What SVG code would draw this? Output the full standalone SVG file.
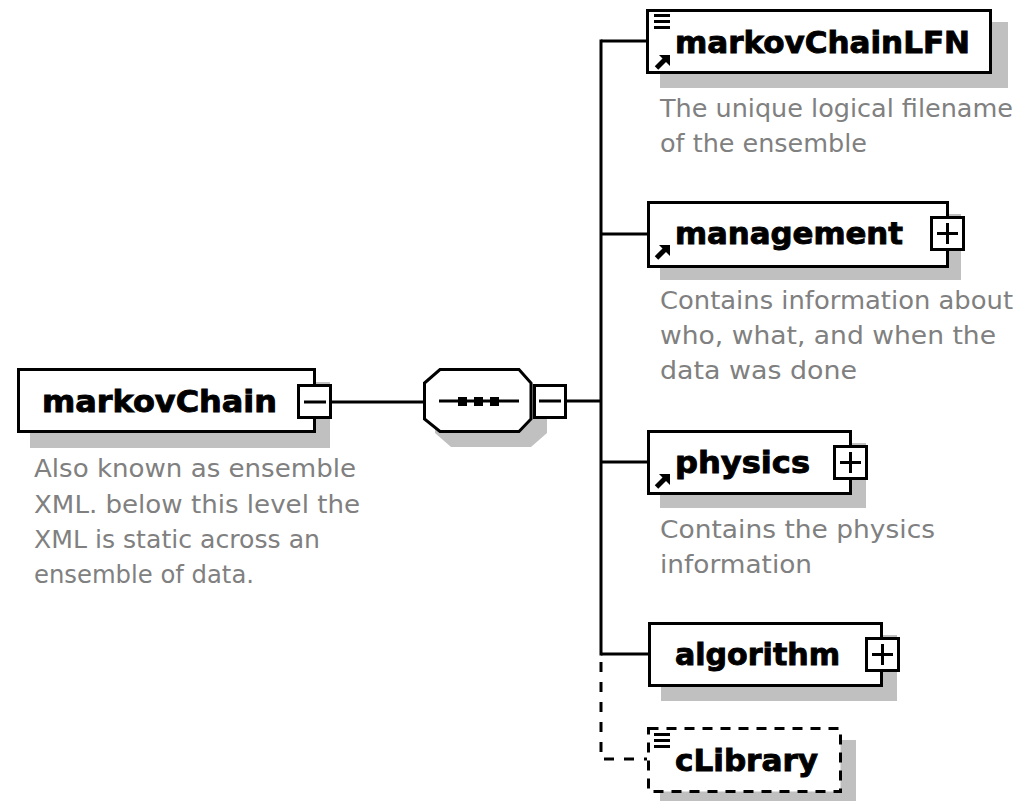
<svg xmlns="http://www.w3.org/2000/svg" width="1023" height="801" viewBox="0 0 1023 801">
<style>
.box{fill:#fff;stroke:#000;stroke-width:3}
.dbox{fill:#fff;stroke:#000;stroke-width:3;stroke-dasharray:10 8}
.sh{fill:#c0c0c0;stroke:none}
.ln{stroke:#000;stroke-width:3;fill:none}
.dln{stroke:#000;stroke-width:3;fill:none;stroke-dasharray:10 10}
.t{font-family:"DejaVu Sans","Verdana",sans-serif;font-weight:bold;font-size:30px;fill:#000;stroke:#000;stroke-width:0.9}
.d{font-family:"DejaVu Sans","Verdana",sans-serif;font-size:24px;fill:#808080}
</style>
<defs>
<g id="refArrow">
<polygon points="4,0 15,0 15,11" fill="#000"/>
<line x1="1.5" y1="13" x2="10.5" y2="4" stroke="#000" stroke-width="5"/>
</g>
<g id="eqIcon" fill="#000">
<rect x="0" y="0" width="16" height="3"/>
<rect x="0" y="6" width="16" height="3"/>
<rect x="0" y="12" width="16" height="3"/>
</g>
<g id="plusBox">
<rect x="1.5" y="1.5" width="32" height="32" class="box"/>
<line x1="7" y1="17.5" x2="28" y2="17.5" class="ln"/>
<line x1="17.5" y1="7" x2="17.5" y2="28" class="ln"/>
</g>
</defs>

<g id="connectors">
<line x1="332" y1="402" x2="424" y2="402" class="ln"/>
<line x1="566" y1="401" x2="602" y2="401" class="ln"/>
<line x1="601" y1="39.5" x2="601" y2="655.5" class="ln"/>
<line x1="601" y1="41" x2="647" y2="41" class="ln"/>
<line x1="601" y1="234" x2="647" y2="234" class="ln"/>
<line x1="601" y1="462" x2="647" y2="462" class="ln"/>
<line x1="601" y1="654" x2="648" y2="654" class="ln"/>
<polyline points="601,662 601,759 647,759" class="dln"/>
</g>

<g id="markovChain">
<rect x="30" y="382" width="300" height="66" class="sh"/>
<rect x="18.5" y="369.5" width="296" height="62" class="box"/>
<text x="42" y="412" class="t" textLength="235" lengthAdjust="spacingAndGlyphs">markovChain</text>
<rect x="298.5" y="385.5" width="32" height="32" class="box"/>
<line x1="304" y1="402" x2="326" y2="402" class="ln"/>
<text class="d" x="34" y="477" textLength="322" lengthAdjust="spacingAndGlyphs">Also known as ensemble</text>
<text class="d" x="34" y="513" textLength="326" lengthAdjust="spacingAndGlyphs">XML. below this level the</text>
<text class="d" x="34" y="548" textLength="286" lengthAdjust="spacingAndGlyphs">XML is static across an</text>
<text class="d" x="34" y="583" textLength="220" lengthAdjust="spacingAndGlyphs">ensemble of data.</text>
</g>

<g id="sequence">
<polygon points="451,382 531,382 547,397 547,433 531,447 451,447 435,433 435,397" class="sh"/>
<polygon points="440,369.5 519,369.5 531,383 531,419 519,431.5 440,431.5 424.5,419 424.5,383" class="box"/>
<line x1="439" y1="401" x2="519" y2="401" class="ln"/>
<rect x="458" y="397" width="9" height="9" fill="#000"/>
<rect x="474" y="397" width="9" height="9" fill="#000"/>
<rect x="490" y="397" width="9" height="9" fill="#000"/>
<rect x="534.5" y="385.5" width="31" height="32" class="box"/>
<line x1="539" y1="401" x2="561" y2="401" class="ln"/>
</g>

<g id="markovChainLFN">
<rect x="660" y="22" width="348" height="66" class="sh"/>
<rect x="647.5" y="10.5" width="343" height="62" class="box"/>
<use href="#eqIcon" x="654" y="14"/>
<use href="#refArrow" x="655" y="55"/>
<text x="675" y="53" class="t" textLength="295" lengthAdjust="spacingAndGlyphs">markovChainLFN</text>
<text class="d" x="660" y="117" textLength="353" lengthAdjust="spacingAndGlyphs">The unique logical filename</text>
<text class="d" x="660" y="152" textLength="207" lengthAdjust="spacingAndGlyphs">of the ensemble</text>
</g>

<g id="management">
<rect x="660" y="214" width="301" height="66" class="sh"/>
<rect x="648.5" y="202.5" width="299" height="64" class="box"/>
<use href="#refArrow" x="655" y="245"/>
<text x="675" y="244" class="t" textLength="228" lengthAdjust="spacingAndGlyphs">management</text>
<use href="#plusBox" x="930" y="216"/>
<text class="d" x="660" y="309" textLength="353" lengthAdjust="spacingAndGlyphs">Contains information about</text>
<text class="d" x="660" y="344" textLength="336" lengthAdjust="spacingAndGlyphs">who, what, and when the</text>
<text class="d" x="660" y="379" textLength="197" lengthAdjust="spacingAndGlyphs">data was done</text>
</g>

<g id="physics">
<rect x="660" y="443" width="206" height="65" class="sh"/>
<rect x="648.5" y="431.5" width="202" height="62" class="box"/>
<use href="#refArrow" x="655" y="474"/>
<text x="675" y="473" class="t" textLength="135" lengthAdjust="spacingAndGlyphs">physics</text>
<use href="#plusBox" x="833" y="445"/>
<text class="d" x="660" y="538" textLength="275" lengthAdjust="spacingAndGlyphs">Contains the physics</text>
<text class="d" x="660" y="573" textLength="152" lengthAdjust="spacingAndGlyphs">information</text>
</g>

<g id="algorithm">
<rect x="661" y="635" width="236" height="66" class="sh"/>
<rect x="649.5" y="623.5" width="232" height="62" class="box"/>
<text x="675" y="665" class="t" textLength="165" lengthAdjust="spacingAndGlyphs">algorithm</text>
<use href="#plusBox" x="865" y="637"/>
</g>

<g id="cLibrary">
<rect x="660" y="740" width="196" height="61" class="sh"/>
<rect x="648.5" y="728.5" width="192" height="63" class="dbox"/>
<use href="#eqIcon" x="654" y="733"/>
<text x="675" y="771" class="t" textLength="143" lengthAdjust="spacingAndGlyphs">cLibrary</text>
</g>
</svg>
